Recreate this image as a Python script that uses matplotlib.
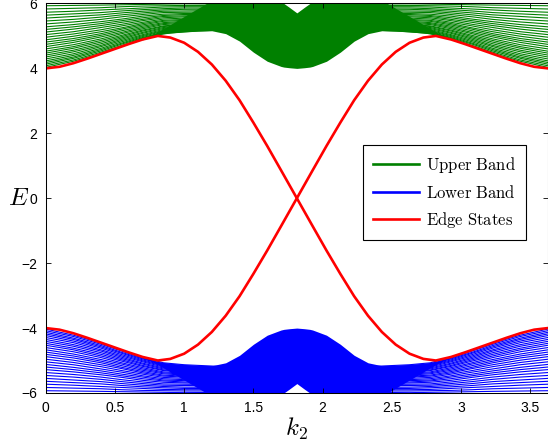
import matplotlib
matplotlib.use("Agg")
import matplotlib.pyplot as plt
from matplotlib.lines import Line2D

plt.rcParams['mathtext.fontset'] = 'cm'
plt.rcParams['font.family'] = ['Liberation Sans', 'DejaVu Sans']

k_cols = [0, 0.2, 0.4, 0.55, 0.7, 0.85, 1.0, 1.4, 1.814, 2.228,
          2.628, 2.778, 2.928, 3.078, 3.228, 3.428, 3.628]

# upper (conduction) band lines, one row per line
upper_band = [
    [4.03, 4.22, 4.46, 4.68, 4.90, 5.07, 5.13, 5.21, 4.32, 5.21, 5.13, 5.07, 4.90, 4.68, 4.46, 4.22, 4.03],
    [4.08, 4.26, 4.50, 4.71, 4.93, 5.10, 5.16, 5.23, 4.35, 5.23, 5.16, 5.10, 4.93, 4.71, 4.50, 4.26, 4.08],
    [4.13, 4.31, 4.54, 4.75, 4.95, 5.12, 5.18, 5.25, 4.38, 5.25, 5.18, 5.12, 4.95, 4.75, 4.54, 4.31, 4.13],
    [4.18, 4.35, 4.58, 4.78, 4.98, 5.15, 5.20, 5.27, 4.42, 5.27, 5.20, 5.15, 4.98, 4.78, 4.58, 4.35, 4.18],
    [4.23, 4.40, 4.62, 4.82, 5.01, 5.17, 5.22, 5.29, 4.45, 5.29, 5.22, 5.17, 5.01, 4.82, 4.62, 4.40, 4.23],
    [4.29, 4.45, 4.67, 4.86, 5.04, 5.20, 5.25, 5.32, 4.49, 5.32, 5.25, 5.20, 5.04, 4.86, 4.67, 4.45, 4.29],
    [4.35, 4.51, 4.71, 4.90, 5.08, 5.23, 5.28, 5.34, 4.52, 5.34, 5.28, 5.23, 5.08, 4.90, 4.71, 4.51, 4.35],
    [4.41, 4.56, 4.76, 4.94, 5.11, 5.26, 5.30, 5.37, 4.56, 5.37, 5.30, 5.26, 5.11, 4.94, 4.76, 4.56, 4.41],
    [4.47, 4.62, 4.81, 4.98, 5.15, 5.29, 5.33, 5.39, 4.60, 5.39, 5.33, 5.29, 5.15, 4.98, 4.81, 4.62, 4.47],
    [4.53, 4.67, 4.86, 5.02, 5.18, 5.31, 5.36, 5.41, 4.64, 5.41, 5.36, 5.31, 5.18, 5.02, 4.86, 4.67, 4.53],
    [4.60, 4.73, 4.91, 5.07, 5.22, 5.35, 5.39, 5.44, 4.68, 5.44, 5.39, 5.35, 5.22, 5.07, 4.91, 4.73, 4.60],
    [4.67, 4.80, 4.97, 5.11, 5.26, 5.38, 5.42, 5.47, 4.73, 5.47, 5.42, 5.38, 5.26, 5.11, 4.97, 4.80, 4.67],
    [4.74, 4.86, 5.02, 5.16, 5.30, 5.41, 5.45, 5.50, 4.77, 5.50, 5.45, 5.41, 5.30, 5.16, 5.02, 4.86, 4.74],
    [4.81, 4.92, 5.07, 5.21, 5.34, 5.45, 5.48, 5.53, 4.82, 5.53, 5.48, 5.45, 5.34, 5.21, 5.07, 4.92, 4.81],
    [4.88, 4.99, 5.13, 5.25, 5.38, 5.48, 5.51, 5.56, 4.86, 5.56, 5.51, 5.48, 5.38, 5.25, 5.13, 4.99, 4.88],
    [4.96, 5.06, 5.19, 5.31, 5.42, 5.52, 5.55, 5.59, 4.91, 5.59, 5.55, 5.52, 5.42, 5.31, 5.19, 5.06, 4.96],
    [5.04, 5.13, 5.26, 5.36, 5.47, 5.56, 5.59, 5.62, 4.97, 5.62, 5.59, 5.56, 5.47, 5.36, 5.26, 5.13, 5.04],
    [5.12, 5.21, 5.32, 5.42, 5.51, 5.60, 5.62, 5.65, 5.02, 5.65, 5.62, 5.60, 5.51, 5.42, 5.32, 5.21, 5.12],
    [5.20, 5.28, 5.38, 5.47, 5.56, 5.63, 5.66, 5.68, 5.07, 5.68, 5.66, 5.63, 5.56, 5.47, 5.38, 5.28, 5.20],
    [5.28, 5.35, 5.44, 5.52, 5.61, 5.67, 5.69, 5.72, 5.12, 5.72, 5.69, 5.67, 5.61, 5.52, 5.44, 5.35, 5.28],
    [5.37, 5.43, 5.51, 5.59, 5.66, 5.72, 5.73, 5.75, 5.18, 5.75, 5.73, 5.72, 5.66, 5.59, 5.51, 5.43, 5.37],
    [5.46, 5.51, 5.58, 5.65, 5.71, 5.76, 5.77, 5.79, 5.23, 5.79, 5.77, 5.76, 5.71, 5.65, 5.58, 5.51, 5.46],
    [5.55, 5.60, 5.65, 5.71, 5.76, 5.80, 5.82, 5.83, 5.29, 5.83, 5.82, 5.80, 5.76, 5.71, 5.65, 5.60, 5.55],
    [5.64, 5.68, 5.72, 5.77, 5.81, 5.84, 5.86, 5.86, 5.35, 5.86, 5.86, 5.84, 5.81, 5.77, 5.72, 5.68, 5.64],
    [5.73, 5.76, 5.80, 5.83, 5.86, 5.89, 5.90, 5.90, 5.41, 5.90, 5.90, 5.89, 5.86, 5.83, 5.80, 5.76, 5.73],
    [5.83, 5.85, 5.87, 5.90, 5.92, 5.93, 5.94, 5.94, 5.47, 5.94, 5.94, 5.93, 5.92, 5.90, 5.87, 5.85, 5.83],
    [5.93, 5.94, 5.95, 5.96, 5.97, 5.98, 5.99, 5.98, 5.54, 5.98, 5.99, 5.98, 5.97, 5.96, 5.95, 5.94, 5.93],
]

# lower (valence) band lines
lower_band = [
    [-4.03, -4.22, -4.46, -4.68, -4.90, -5.07, -5.13, -5.21, -4.32, -5.21, -5.13, -5.07, -4.90, -4.68, -4.46, -4.22, -4.03],
    [-4.08, -4.26, -4.50, -4.71, -4.93, -5.10, -5.16, -5.23, -4.35, -5.23, -5.16, -5.10, -4.93, -4.71, -4.50, -4.26, -4.08],
    [-4.13, -4.31, -4.54, -4.75, -4.95, -5.12, -5.18, -5.25, -4.38, -5.25, -5.18, -5.12, -4.95, -4.75, -4.54, -4.31, -4.13],
    [-4.18, -4.35, -4.58, -4.78, -4.98, -5.15, -5.20, -5.27, -4.42, -5.27, -5.20, -5.15, -4.98, -4.78, -4.58, -4.35, -4.18],
    [-4.23, -4.40, -4.62, -4.82, -5.01, -5.17, -5.22, -5.29, -4.45, -5.29, -5.22, -5.17, -5.01, -4.82, -4.62, -4.40, -4.23],
    [-4.29, -4.45, -4.67, -4.86, -5.04, -5.20, -5.25, -5.32, -4.49, -5.32, -5.25, -5.20, -5.04, -4.86, -4.67, -4.45, -4.29],
    [-4.35, -4.51, -4.71, -4.90, -5.08, -5.23, -5.28, -5.34, -4.52, -5.34, -5.28, -5.23, -5.08, -4.90, -4.71, -4.51, -4.35],
    [-4.41, -4.56, -4.76, -4.94, -5.11, -5.26, -5.30, -5.37, -4.56, -5.37, -5.30, -5.26, -5.11, -4.94, -4.76, -4.56, -4.41],
    [-4.47, -4.62, -4.81, -4.98, -5.15, -5.29, -5.33, -5.39, -4.60, -5.39, -5.33, -5.29, -5.15, -4.98, -4.81, -4.62, -4.47],
    [-4.53, -4.67, -4.86, -5.02, -5.18, -5.31, -5.36, -5.41, -4.64, -5.41, -5.36, -5.31, -5.18, -5.02, -4.86, -4.67, -4.53],
    [-4.60, -4.73, -4.91, -5.07, -5.22, -5.35, -5.39, -5.44, -4.68, -5.44, -5.39, -5.35, -5.22, -5.07, -4.91, -4.73, -4.60],
    [-4.67, -4.80, -4.97, -5.11, -5.26, -5.38, -5.42, -5.47, -4.73, -5.47, -5.42, -5.38, -5.26, -5.11, -4.97, -4.80, -4.67],
    [-4.74, -4.86, -5.02, -5.16, -5.30, -5.41, -5.45, -5.50, -4.77, -5.50, -5.45, -5.41, -5.30, -5.16, -5.02, -4.86, -4.74],
    [-4.81, -4.92, -5.07, -5.21, -5.34, -5.45, -5.48, -5.53, -4.82, -5.53, -5.48, -5.45, -5.34, -5.21, -5.07, -4.92, -4.81],
    [-4.88, -4.99, -5.13, -5.25, -5.38, -5.48, -5.51, -5.56, -4.86, -5.56, -5.51, -5.48, -5.38, -5.25, -5.13, -4.99, -4.88],
    [-4.96, -5.06, -5.19, -5.31, -5.42, -5.52, -5.55, -5.59, -4.91, -5.59, -5.55, -5.52, -5.42, -5.31, -5.19, -5.06, -4.96],
    [-5.04, -5.13, -5.26, -5.36, -5.47, -5.56, -5.59, -5.62, -4.97, -5.62, -5.59, -5.56, -5.47, -5.36, -5.26, -5.13, -5.04],
    [-5.12, -5.21, -5.32, -5.42, -5.51, -5.60, -5.62, -5.65, -5.02, -5.65, -5.62, -5.60, -5.51, -5.42, -5.32, -5.21, -5.12],
    [-5.20, -5.28, -5.38, -5.47, -5.56, -5.63, -5.66, -5.68, -5.07, -5.68, -5.66, -5.63, -5.56, -5.47, -5.38, -5.28, -5.20],
    [-5.28, -5.35, -5.44, -5.52, -5.61, -5.67, -5.69, -5.72, -5.12, -5.72, -5.69, -5.67, -5.61, -5.52, -5.44, -5.35, -5.28],
    [-5.37, -5.43, -5.51, -5.59, -5.66, -5.72, -5.73, -5.75, -5.18, -5.75, -5.73, -5.72, -5.66, -5.59, -5.51, -5.43, -5.37],
    [-5.46, -5.51, -5.58, -5.65, -5.71, -5.76, -5.77, -5.79, -5.23, -5.79, -5.77, -5.76, -5.71, -5.65, -5.58, -5.51, -5.46],
    [-5.55, -5.60, -5.65, -5.71, -5.76, -5.80, -5.82, -5.83, -5.29, -5.83, -5.82, -5.80, -5.76, -5.71, -5.65, -5.60, -5.55],
    [-5.64, -5.68, -5.72, -5.77, -5.81, -5.84, -5.86, -5.86, -5.35, -5.86, -5.86, -5.84, -5.81, -5.77, -5.72, -5.68, -5.64],
    [-5.73, -5.76, -5.80, -5.83, -5.86, -5.89, -5.90, -5.90, -5.41, -5.90, -5.90, -5.89, -5.86, -5.83, -5.80, -5.76, -5.73],
    [-5.83, -5.85, -5.87, -5.90, -5.92, -5.93, -5.94, -5.94, -5.47, -5.94, -5.94, -5.93, -5.92, -5.90, -5.87, -5.85, -5.83],
    [-5.93, -5.94, -5.95, -5.96, -5.97, -5.98, -5.99, -5.98, -5.54, -5.98, -5.99, -5.98, -5.97, -5.96, -5.95, -5.94, -5.93],
]

# dense middle part of each band, where the lines merge: its lower and upper edges
fill_k = [0.7, 0.8, 0.9, 1.0, 1.1, 1.2, 1.3, 1.4, 1.5, 1.6, 1.7, 1.72, 1.76, 1.814,
          1.868, 1.908, 1.928, 2.028, 2.128, 2.228, 2.328, 2.428, 2.528, 2.628, 2.728, 2.828, 2.928]
upper_edge_lo = [4.88, 5.03, 5.09, 5.12, 5.15, 5.16, 5.07, 4.84, 4.50, 4.22, 4.06, 4.04, 4.02, 4.00,
                 4.02, 4.04, 4.06, 4.22, 4.50, 4.84, 5.07, 5.16, 5.15, 5.12, 5.09, 5.03, 4.88]
upper_edge_hi = [4.90, 5.10, 5.35, 5.60, 5.85, 6.10, 6.5, 6.5, 6.5, 6.5, 6.07, 6.00, 5.88, 5.71,
                 5.88, 6.00, 6.07, 6.5, 6.5, 6.5, 6.5, 6.10, 5.85, 5.60, 5.35, 5.10, 4.90]
lower_edge_hi = [-4.88, -5.03, -5.09, -5.12, -5.15, -5.16, -5.07, -4.84, -4.50, -4.22, -4.06, -4.04, -4.02, -4.00,
                 -4.02, -4.04, -4.06, -4.22, -4.50, -4.84, -5.07, -5.16, -5.15, -5.12, -5.09, -5.03, -4.88]
lower_edge_lo = [-4.90, -5.10, -5.35, -5.60, -5.85, -6.10, -6.5, -6.5, -6.5, -6.5, -6.07, -6.00, -5.88, -5.71,
                 -5.88, -6.00, -6.07, -6.5, -6.5, -6.5, -6.5, -6.10, -5.85, -5.60, -5.35, -5.10, -4.90]

# edge state branches
edge_k = [0, 0.1, 0.2, 0.3, 0.4, 0.5, 0.6, 0.7, 0.81, 0.9, 1.0, 1.1, 1.2, 1.3, 1.4, 1.5,
          1.6, 1.7, 1.814, 1.928, 2.028, 2.128, 2.228, 2.328, 2.428, 2.528, 2.628,
          2.728, 2.818, 2.928, 3.028, 3.128, 3.228, 3.328, 3.428, 3.528, 3.628]
edge_a = [4.00, 4.05, 4.16, 4.30, 4.45, 4.60, 4.75, 4.89, 5.00, 4.95, 4.79, 4.51, 4.12, 3.62,
          3.02, 2.33, 1.61, 0.86, 0.00, -0.86, -1.61, -2.33, -3.02, -3.62, -4.12, -4.51,
          -4.79, -4.95, -5.00, -4.89, -4.75, -4.60, -4.45, -4.30, -4.16, -4.05, -4.00]
edge_b = [-4.00, -4.05, -4.16, -4.30, -4.45, -4.60, -4.75, -4.89, -5.00, -4.95, -4.79, -4.51,
          -4.12, -3.62, -3.02, -2.33, -1.61, -0.86, 0.00, 0.86, 1.61, 2.33, 3.02, 3.62, 4.12,
          4.51, 4.79, 4.95, 5.00, 4.89, 4.75, 4.60, 4.45, 4.30, 4.16, 4.05, 4.00]

x_ticks = [0, 0.5, 1, 1.5, 2, 2.5, 3, 3.5]
x_ticklabels = ['0', '0.5', '1', '1.5', '2', '2.5', '3', '3.5']
y_ticks = [-6, -4, -2, 0, 2, 4, 6]

fig = plt.figure(figsize=(5.48, 4.45), dpi=100)
ax = fig.add_axes([0.0834, 0.1169, 0.9166, 0.8753])

for row in upper_band:
    ax.plot(k_cols, row, color='green', lw=0.8, zorder=1)
for row in lower_band:
    ax.plot(k_cols, row, color='blue', lw=0.8, zorder=1)
ax.fill_between(fill_k, upper_edge_lo, upper_edge_hi, color='green', lw=0, zorder=1)
ax.fill_between(fill_k, lower_edge_lo, lower_edge_hi, color='blue', lw=0, zorder=1)

ax.plot(edge_k, edge_a, color='red', lw=1.9, zorder=3)
ax.plot(edge_k, edge_b, color='red', lw=1.9, zorder=3)

ax.set_xlim(0, 3.628)
ax.set_ylim(-6, 6)
ax.set_xticks(x_ticks)
ax.set_xticklabels(x_ticklabels)
ax.set_yticks(y_ticks)
ax.tick_params(direction='in', top=True, right=True, length=3.6, width=0.6,
               labelsize=10, pad=6)
for sp in ax.spines.values():
    sp.set_linewidth(0.75)
    sp.set_zorder(5)

ax.set_xlabel('$k_2$', fontsize=18)
ax.xaxis.set_label_coords(0.5, -0.092)
ax.xaxis.label.set_va('center')
ax.set_ylabel('$E$', fontsize=18, rotation=0, va='center', ha='center')
ax.yaxis.set_label_coords(-0.055, 0.5)

handles = [Line2D([], [], color='green', lw=1.9, label=r'$\mathrm{Upper\ Band}$'),
           Line2D([], [], color='blue', lw=1.9, label=r'$\mathrm{Lower\ Band}$'),
           Line2D([], [], color='red', lw=1.9, label=r'$\mathrm{Edge\ States}$')]
leg = ax.legend(handles=handles, loc='upper left', bbox_to_anchor=(0.632, 0.637),
                borderaxespad=0, fontsize=12, handlelength=2.75, handletextpad=0.4,
                labelspacing=0.55, borderpad=0.6, fancybox=False, framealpha=1,
                edgecolor='black')
leg.get_frame().set_linewidth(0.8)

fig.savefig('out.png', dpi=100)
